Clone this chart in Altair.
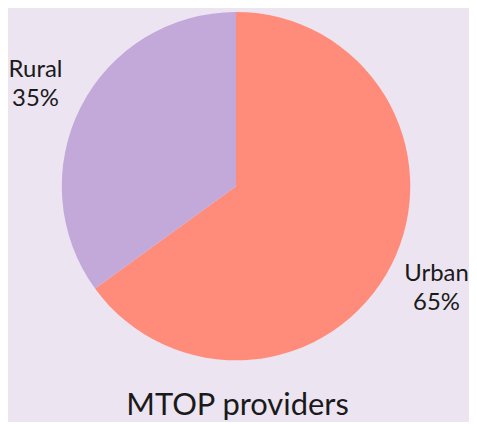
import altair as alt
import pandas as pd

categories = ["Urban", "Rural"]
shares = [65, 35]
labels = ["Urban\n65%", "Rural\n35%"]
order = [0, 1]

df = pd.DataFrame({"category": categories, "share": shares, "label": labels, "order": order})

BG = "#ede4f1"
colors = ["#ff8c7a", "#c3a9d9"]

base = alt.Chart(df).encode(
    theta=alt.Theta("share:Q", stack=True),
    order=alt.Order("order:Q"),
)

pie = base.mark_arc(radius=175, x=229, y=178).encode(
    color=alt.Color("category:N", scale=alt.Scale(domain=categories, range=colors), legend=None)
)

text = base.mark_text(
    radius=226, x=229, y=178, dy=-14, font="Lato", fontSize=24, lineBreak="\n",
    color="#1a1a1a", align="center", baseline="middle", lineHeight=29
).encode(text="label:N")

chart = alt.layer(pie, text).properties(
    width=461,
    height=368,
    padding=0,
    background=BG,
    title=alt.TitleParams(
        "MTOP providers", orient="bottom", anchor="middle", fontSize=31,
        font="Lato", fontWeight="normal", color="#1a1a1a", offset=16
    ),
).configure_view(stroke=None)

chart.save("out.html", embed_options={"renderer": "svg", "actions": False})
